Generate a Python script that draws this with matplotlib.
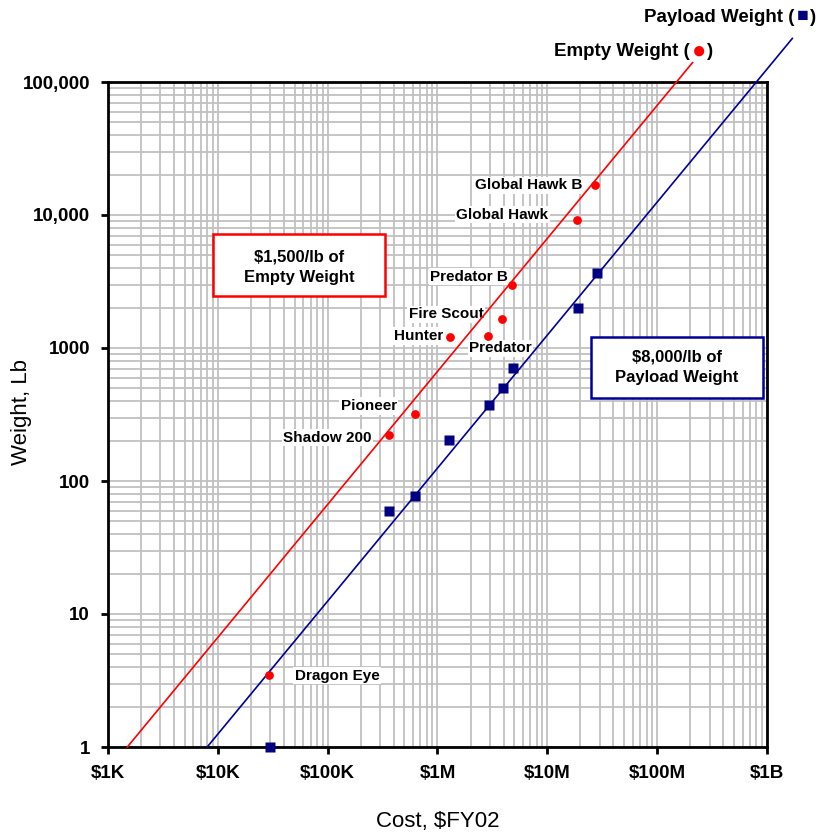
import matplotlib
matplotlib.use("Agg")
import matplotlib.pyplot as plt
from matplotlib.patches import Rectangle
from matplotlib.ticker import FixedLocator, FixedFormatter, LogLocator, NullFormatter

plt.rcParams['font.family'] = ['Liberation Sans', 'DejaVu Sans']

# empty weight (red circles)
uav_names = ["Global Hawk B", "Global Hawk", "Predator B", "Fire Scout", "Hunter",
             "Predator", "Pioneer", "Shadow 200", "Dragon Eye"]
empty_cost = [2.73e7, 1.87e7, 4.8e6, 3.9e6, 1.31e6, 2.9e6, 6.2e5, 3.6e5, 2.9e4]
empty_wt = [16800, 9200, 3000, 1650, 1210, 1230, 319, 222, 3.5]

# payload weight (blue squares)
payload_cost = [2.85e7, 1.9e7, 4.9e6, 3.96e6, 2.97e6, 1.28e6, 6.2e5, 3.6e5, 3.0e4]
payload_wt = [3660, 2000, 708, 500, 372, 203, 77, 60, 1]

# $/lb trend lines
empty_rate = 1500
payload_rate = 8000
empty_line_cost = [1500, 2.1e8]
payload_line_cost = [8000, 1.7e9]

x_ticks = [1e3, 1e4, 1e5, 1e6, 1e7, 1e8, 1e9]
x_labels = ["$1K", "$10K", "$100K", "$1M", "$10M", "$100M", "$1B"]
y_ticks = [1, 10, 100, 1000, 1e4, 1e5]
y_labels = ["1", "10", "100", "1000", "10,000", "100,000"]

# label offsets in pixels (dx, dy, ha)
label_pos = [(-13, 0, "right"), (-29, 5, "right"), (-4, 8, "right"), (-19, 5, "right"),
             (-7, 1, "right"), (-19, -12, "left"), (-18, 8, "right"), (-17, -3, "right"),
             (26, -1, "left")]

fig = plt.figure(figsize=(8.2, 8.36), dpi=100)
ax = fig.add_axes([108/820, 1-747/836, 659/820, 665/836])
ax.set_xscale("log")
ax.set_yscale("log")
ax.set_xlim(1e3, 1e9)
ax.set_ylim(1, 1e5)

ax.grid(True, which="both", color="#c0c0c0", lw=1.3, zorder=0)
ax.set_axisbelow(True)

ax.plot(empty_line_cost, [c / empty_rate for c in empty_line_cost],
        color="#ff0000", lw=1.2, clip_on=False, zorder=3)
ax.plot(payload_line_cost, [c / payload_rate for c in payload_line_cost],
        color="#000099", lw=1.2, clip_on=False, zorder=3)

ax.plot(empty_cost, empty_wt, "o", color="#ff0000", ms=6.3, mec="none", zorder=4)
ax.plot(payload_cost, payload_wt, "s", color="#000080", ms=6.5, mec="none",
        clip_on=False, zorder=4)

for name, c, w, (dx, dy, ha) in zip(uav_names, empty_cost, empty_wt, label_pos):
    ax.annotate(name, (c, w), xytext=(dx, dy), textcoords="offset pixels",
                ha=ha, va="center", fontsize=11, fontweight="bold", zorder=2.5,
                bbox=dict(boxstyle="square,pad=0.1", fc="white", ec="none"))

# rate boxes
ax.add_patch(Rectangle((0.159, 0.678), 0.261, 0.093, transform=ax.transAxes,
                       fc="white", ec="#ff0000", lw=1.8, zorder=5))
ax.text(0.2898, 0.7218, "$1,500/lb of\nEmpty Weight", transform=ax.transAxes,
        ha="center", va="center", fontsize=12, fontweight="bold", linespacing=1.5, zorder=6)
ax.add_patch(Rectangle((0.733, 0.525), 0.261, 0.092, transform=ax.transAxes,
                       fc="white", ec="#000099", lw=1.8, zorder=5))
ax.text(0.8634, 0.5714, "$8,000/lb of\nPayload Weight", transform=ax.transAxes,
        ha="center", va="center", fontsize=12, fontweight="bold", linespacing=1.5, zorder=6)

ax.xaxis.set_major_locator(FixedLocator(x_ticks))
ax.xaxis.set_major_formatter(FixedFormatter(x_labels))
ax.yaxis.set_major_locator(FixedLocator(y_ticks))
ax.yaxis.set_major_formatter(FixedFormatter(y_labels))
ax.xaxis.set_minor_locator(LogLocator(base=10, subs=range(2, 10), numticks=20))
ax.yaxis.set_minor_locator(LogLocator(base=10, subs=range(2, 10), numticks=20))
ax.xaxis.set_minor_formatter(NullFormatter())
ax.yaxis.set_minor_formatter(NullFormatter())
ax.tick_params(which="major", direction="out", length=5, width=2, labelsize=13.5, pad=8)
ax.tick_params(which="minor", length=0)
for lab in ax.get_xticklabels() + ax.get_yticklabels():
    lab.set_fontweight("bold")
for s in ax.spines.values():
    s.set_linewidth(2)

fig.text(438/820, 1-822/836, "Cost, $FY02", ha="center", va="center", fontsize=16)
fig.text(22/820, 1-412/836, "Weight, Lb", ha="center", va="center", fontsize=16,
         rotation=90)

# legend labels at top
yl1 = 1 - 52/836
fig.text(690/820, yl1, "Empty Weight (", ha="right", va="center", fontsize=13.5,
         fontweight="bold")
fig.text(699/820, yl1, "\u25cf", ha="center", va="center", fontsize=17, color="#ff0000")
fig.text(707/820, yl1, ")", ha="left", va="center", fontsize=13.5, fontweight="bold")
yl2 = 1 - 17/836
fig.text(794/820, yl2, "Payload Weight (", ha="right", va="center", fontsize=13.5,
         fontweight="bold")
fig.text(803/820, yl2, "\u25a0", ha="center", va="center", fontsize=14, color="#000080")
fig.text(810/820, yl2, ")", ha="left", va="center", fontsize=13.5, fontweight="bold")

fig.savefig("out.png", dpi=100)
